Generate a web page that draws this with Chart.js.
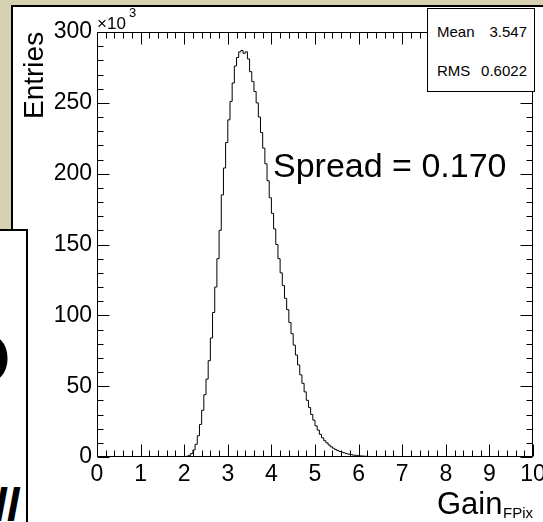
<!DOCTYPE html>
<html>
<head>
<meta charset="utf-8">
<title>Gain FPix</title>
<script src="https://cdn.jsdelivr.net/npm/chart.js@4.4.1/dist/chart.umd.min.js"></script>
<style>
  html, body { margin: 0; padding: 0; }
  body {
    width: 543px; height: 522px; position: relative; overflow: hidden;
    background: #d4d0b0;
    font-family: "Liberation Sans", Arial, sans-serif; color: #000;
  }
  .abs { position: absolute; white-space: nowrap; line-height: 1; }
  #panel { left: 11px; top: 5px; width: 600px; height: 600px; background: #fff; border: 2px solid #000; box-sizing: border-box; }
  #chart { position: absolute; left: 0; top: 0; }
  #sidebox { left: -2px; top: 229px; width: 30px; height: 320px; background: #fff; border: 2px solid #000; box-sizing: border-box; overflow: hidden; }
  #stats { left: 427px; top: 8px; width: 108px; height: 84px; background: #fff; border: 1px solid #000; box-sizing: border-box; }
</style>
</head>
<body>
<div id="panel" class="abs"></div>
<canvas id="chart" width="543" height="522"></canvas>

<div id="sidebox" class="abs">
  <div class="abs" style="left:-44px; top:93px; font-size:70px; font-weight:bold;">O</div>
  <div class="abs" style="left:-6px; top:251px; font-size:46px; font-weight:bold; font-style:italic;">ll</div>
</div>

<div class="abs" style="left:20px; top:119px; font-size:28px; transform:rotate(-90deg); transform-origin:left top;">Entries</div>
<div class="abs" style="left:97px; top:15px; font-size:17px;">&times;10</div>
<div class="abs" style="left:129px; top:6px; font-size:13px;">3</div>

<div id="stats" class="abs"></div>
<div class="abs" id="statName0" style="left:437px; top:24px; font-size:15px;"></div>
<div class="abs" id="statVal0" style="right:16px; top:24px; font-size:15px;"></div>
<div class="abs" id="statName1" style="left:437px; top:63px; font-size:15px;"></div>
<div class="abs" id="statVal1" style="right:16px; top:63px; font-size:15px;"></div>

<div class="abs" style="left:273px; top:148px; font-size:34px;">Spread = 0.170</div>

<div class="abs" style="left:437px; top:488px; font-size:31px;">Gain</div>
<div class="abs" style="left:503px; top:505px; font-size:15px;">FPix</div>

<script>
// gain histogram, entries per 0.05 bin in units of 10^3
const binLowEdges = [
  2.00, 2.05, 2.10, 2.15, 2.20, 2.25, 2.30, 2.35, 2.40, 2.45,
  2.50, 2.55, 2.60, 2.65, 2.70, 2.75, 2.80, 2.85, 2.90, 2.95,
  3.00, 3.05, 3.10, 3.15, 3.20, 3.25, 3.30, 3.35, 3.40, 3.45,
  3.50, 3.55, 3.60, 3.65, 3.70, 3.75, 3.80, 3.85, 3.90, 3.95,
  4.00, 4.05, 4.10, 4.15, 4.20, 4.25, 4.30, 4.35, 4.40, 4.45,
  4.50, 4.55, 4.60, 4.65, 4.70, 4.75, 4.80, 4.85, 4.90, 4.95,
  5.00, 5.05, 5.10, 5.15, 5.20, 5.25, 5.30, 5.35, 5.40, 5.45,
  5.50, 5.55, 5.60, 5.65, 5.70, 5.75, 5.80, 5.85, 5.90, 5.95,
  6.00, 6.05, 6.10, 6.15, 6.20, 6.25
];
const lastBinUpEdge = 6.30;
const entries = [
  0.3, 0.6, 1.2, 2.5, 5, 9, 15, 23, 33, 44,
  55, 68, 84, 102, 120, 140, 160, 185, 204, 222,
  238, 251, 264, 276, 282, 286, 287, 285, 286, 281,
  272, 265, 258, 250, 240, 229, 218, 207, 195, 183,
  172, 161, 150, 140, 130, 121, 112, 104, 95, 87,
  79, 72, 65, 58, 52, 46, 40, 35, 30, 26,
  22, 19, 16, 13.5, 11.5, 10, 8.5, 7.2, 6.2, 5.3,
  4.5, 3.9, 3.4, 2.9, 2.4, 2.0, 1.7, 1.4, 1.2, 1.0,
  0.8, 0.7, 0.6, 0.5, 0.4, 0.3
];

const xTicks = [0, 1, 2, 3, 4, 5, 6, 7, 8, 9, 10];
const yTicks = [0, 50, 100, 150, 200, 250, 300];
const statNames = ["Mean", "RMS"];
const statValues = ["3.547", "0.6022"];

statNames.forEach((n, i) => {
  document.getElementById("statName" + i).textContent = n;
  document.getElementById("statVal" + i).textContent = statValues[i];
});

// histogram outline as step line
let points = [{ x: binLowEdges[0], y: 0 }];
binLowEdges.forEach((edge, i) => points.push({ x: edge, y: entries[i] }));
points.push({ x: lastBinUpEdge, y: 0 });

const fontFamily = '"Liberation Sans", Arial, sans-serif';

// ROOT style frame with ticks pointing inwards on all four sides
const rootFrame = {
  id: "rootFrame",
  beforeDatasetsDraw(chart) {
    const { ctx, chartArea: a, scales } = chart;
    const x = scales.x, y = scales.y;
    const L = a.left + 0.5, R = a.right - 0.5, T = a.top + 0.5, B = a.bottom - 0.5;
    ctx.save();
    ctx.strokeStyle = "#000";
    ctx.lineWidth = 1;
    ctx.beginPath();
    ctx.rect(L, T, R - L, B - T);
    for (let i = 0; i <= 50; i++) {
      const px = Math.round(x.getPixelForValue(i / 5)) + 0.5;
      const len = i % 5 === 0 ? 12 : 6;
      ctx.moveTo(px, B); ctx.lineTo(px, B - len);
      ctx.moveTo(px, T); ctx.lineTo(px, T + len);
    }
    for (let i = 0; i <= 30; i++) {
      const py = Math.round(y.getPixelForValue(i * 10)) + 0.5;
      const len = i % 5 === 0 ? 12 : 6;
      ctx.moveTo(L, py); ctx.lineTo(L + len, py);
      ctx.moveTo(R, py); ctx.lineTo(R - len, py);
    }
    ctx.stroke();
    ctx.restore();
  }
};

new Chart(document.getElementById("chart"), {
  type: "line",
  data: {
    datasets: [{
      data: points,
      borderColor: "#000",
      borderWidth: 1,
      stepped: "before",
      fill: false,
      pointRadius: 0
    }]
  },
  options: {
    responsive: false,
    animation: false,
    layout: { padding: { left: 0, right: 10, top: 32, bottom: 0 } },
    plugins: { legend: { display: false }, tooltip: { enabled: false } },
    scales: {
      x: {
        type: "linear",
        min: 0,
        max: 10,
        grid: { display: false, drawTicks: false },
        border: { display: false },
        afterBuildTicks: (s) => { s.ticks = xTicks.map((v) => ({ value: v })); },
        afterFit: (s) => { s.height = 65; s.paddingLeft = 0; s.paddingRight = 0; },
        ticks: { color: "#000", padding: 4, maxRotation: 0, autoSkip: false, font: { family: fontFamily, size: 23 } }
      },
      y: {
        type: "linear",
        min: 0,
        max: 300,
        grid: { display: false, drawTicks: false },
        border: { display: false },
        afterBuildTicks: (s) => { s.ticks = yTicks.map((v) => ({ value: v })); },
        afterFit: (s) => { s.width = 97; s.paddingTop = 0; s.paddingBottom = 0; },
        ticks: { color: "#000", padding: 5, font: { family: fontFamily, size: 23 } }
      }
    }
  },
  plugins: [rootFrame]
});
</script>
</body>
</html>
